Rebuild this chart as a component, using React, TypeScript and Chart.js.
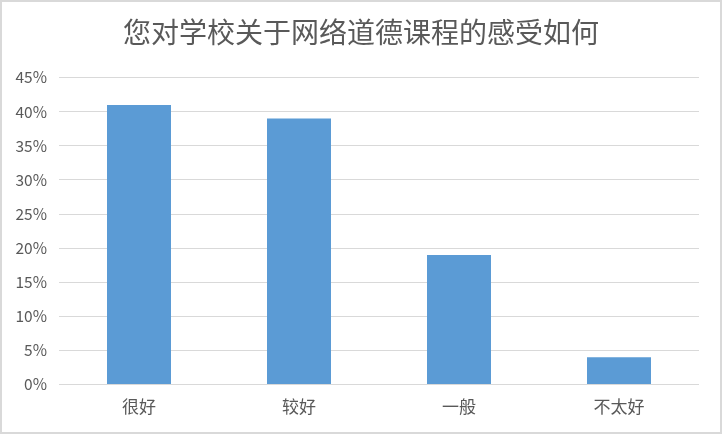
import React, { useEffect, useRef } from 'react';
import { Chart } from 'chart.js/auto';

const categories = ['很好', '较好', '一般', '不太好'];
const shares = [41, 39, 19, 4];
const yTickLabels = ['0%', '5%', '10%', '15%', '20%', '25%', '30%', '35%', '40%', '45%'];

const FONT = '"Noto Sans CJK SC", "Noto Sans", sans-serif';
const TEXT = '#595959';

// centre the title over the whole canvas rather than the padded area
const centreTitle = {
  id: 'centreTitle',
  afterLayout(chart: any) {
    if (chart.titleBlock) chart.titleBlock.right = chart.width;
  }
};

export default function App() {
  const chartRef = useRef<HTMLCanvasElement>(null);
  const chartInstance = useRef<Chart | null>(null);

  useEffect(() => {
    document.body.style.margin = '0';
    if (!chartRef.current) return;
    const ctx = chartRef.current.getContext('2d');
    if (!ctx) return;

    if (chartInstance.current) chartInstance.current.destroy();

    chartInstance.current = new Chart(ctx, {
      type: 'bar',
      data: {
        labels: categories,
        datasets: [{
          label: '比例',
          data: shares,
          backgroundColor: '#5b9bd5',
          barPercentage: 0.4,
          categoryPercentage: 1
        }]
      },
      options: {
        responsive: true,
        maintainAspectRatio: false,
        animation: false,
        layout: { padding: { left: 0, right: 21, top: 0, bottom: 3 } },
        plugins: {
          legend: { display: false },
          tooltip: { enabled: false },
          title: {
            display: true,
            text: '您对学校关于网络道德课程的感受如何',
            color: TEXT,
            font: { family: FONT, size: 28, weight: 'normal' },
            padding: { top: 14, bottom: 28 }
          }
        },
        scales: {
          x: {
            grid: { display: false, drawTicks: false },
            border: { display: false },
            ticks: {
              color: TEXT,
              font: { family: FONT, size: 17 },
              padding: 12
            }
          },
          y: {
            min: 0,
            max: 45,
            border: { display: false },
            grid: { color: '#d9d9d9', lineWidth: 1, drawTicks: false },
            afterFit: (scale) => { scale.width = 57; },
            ticks: {
              stepSize: 5,
              color: TEXT,
              padding: 12,
              font: { family: FONT, size: 15.5 },
              callback: (_v, i) => yTickLabels[i]
            }
          }
        }
      },
      plugins: [centreTitle]
    });

    return () => {
      if (chartInstance.current) {
        chartInstance.current.destroy();
        chartInstance.current = null;
      }
    };
  }, []);

  return (
    <div style={{
      position: 'absolute', left: 0, top: 0, width: 722, height: 434,
      boxSizing: 'border-box', border: '2px solid #d9d9d9', background: '#fff'
    }}>
      <div style={{ position: 'relative', width: 718, height: 430 }}>
        <canvas ref={chartRef} />
      </div>
    </div>
  );
}
